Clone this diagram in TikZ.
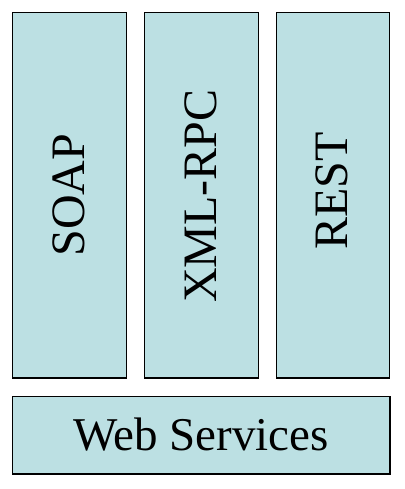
\documentclass[tikz,border=0pt]{standalone}
\usepackage{fontspec}
\setmainfont{Liberation Serif}
\definecolor{boxfill}{RGB}{188,224,227}
\begin{document}
\begin{tikzpicture}[x=1pt,y=-1pt,
  layer/.style={draw=black, line width=1.2pt, fill=boxfill, inner sep=0pt, outer sep=0pt},
  lbl/.style={font=\fontsize{48}{50}\selectfont, inner sep=0pt}]
\useasboundingbox (0,0) rectangle (404,489);
\draw[layer] (12.5,12.5) rectangle (126.5,378);
\draw[layer] (144.5,12.5) rectangle (258.5,378);
\draw[layer] (276.5,12.5) rectangle (389.5,378);
\draw[layer] (12.5,396.5) rectangle (390,474);
\node[lbl, rotate=90] (soap) at (68.5,195) {SOAP};
\node[lbl, rotate=90] (xmlrpc) at (200.5,196) {XML-RPC};
\node[lbl, rotate=90] (rest) at (332,191) {REST};
\node[lbl, font=\fontsize{47}{50}\selectfont] (ws) at (201,435) {Web Services};
\end{tikzpicture}
\end{document}
